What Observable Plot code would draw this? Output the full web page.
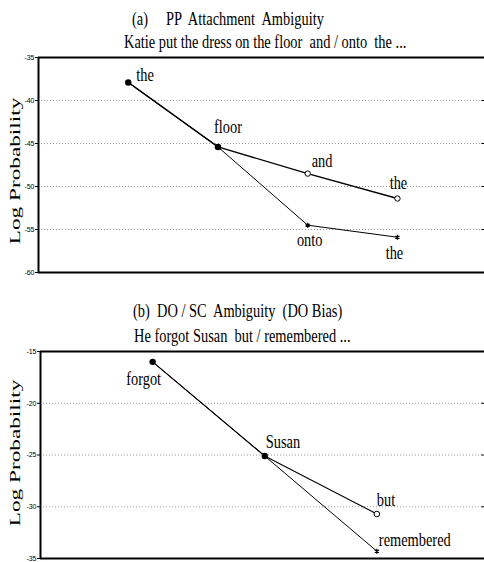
<!DOCTYPE html>
<html><head><meta charset="utf-8">
<script src="https://cdn.jsdelivr.net/npm/d3@7"></script>
<script src="https://cdn.jsdelivr.net/npm/@observablehq/plot@0.6"></script>
<style>
body{margin:0;background:#fff;}
#wrap{position:relative;width:484px;height:562px;overflow:hidden;background:#fff;font-family:"Liberation Serif","Times New Roman",serif;color:#000;}
.t{position:absolute;white-space:pre;font-size:18px;line-height:18px;transform-origin:0 0;transform:scaleX(0.8);}
.yl{position:absolute;white-space:pre;font-size:15px;line-height:15px;transform:translate(-50%,-50%) rotate(-90deg) scaleX(1.55);}
.panel{position:absolute;left:0;}
</style>
</head><body>
<div id="wrap">
  <div class="t" style="left:132px;top:10px">(a)     PP  Attachment  Ambiguity</div>
  <div class="t" style="left:124px;top:32.5px">Katie put the dress on the floor  and / onto  the ...</div>
  <div class="yl" style="left:15px;top:171px">Log Probability</div>
  <div class="panel" id="pa" style="top:48px"></div>
  <div class="t" style="left:133px;top:302px">(b)  DO / SC  Ambiguity  (DO Bias)</div>
  <div class="t" style="left:134px;top:327px">He forgot Susan  but / remembered ...</div>
  <div class="yl" style="left:15px;top:453px">Log Probability</div>
  <div class="panel" id="pb" style="top:342px"></div>
</div>
<script>
// ---- Panel (a) data ----
const posA = [1, 2, 3, 4];
const wordsAnd = ["the", "floor", "and", "the"];
const valsAnd = [-37.9, -45.4, -48.5, -51.4];
const wordsOnto = ["the", "floor", "onto", "the"];
const valsOnto = [-37.9, -45.4, -54.5, -55.9];
const ticksA = [-60, -55, -50, -45, -40, -35];

// ---- Panel (b) data ----
const posB = [1, 2, 3];
const wordsBut = ["forgot", "Susan", "but"];
const valsBut = [-16.0, -25.1, -30.7];
const wordsRem = ["forgot", "Susan", "remembered"];
const valsRem = [-16.0, -25.1, -34.3];
const ticksB = [-35, -30, -25, -20, -15];

const SERIF = "Liberation Serif";
const SANS = "Liberation Sans";

function rows(pos, words, vals) {
  return pos.map((p, i) => ({x: p, y: vals[i], word: words[i], i}));
}

function frameMarks(ticks, xMin, xMax) {
  const lo = d3.min(ticks), hi = d3.max(ticks);
  const inner = ticks.filter(t => t !== lo && t !== hi);
  return [
    Plot.ruleY(inner, {stroke: "#8a8a8a", strokeWidth: 0.9, strokeDasharray: "1,2"}),
    Plot.ruleY(ticks, {x1: xMax - (xMax - xMin) * 0.006, x2: xMax, stroke: "#000", strokeWidth: 1}),
    Plot.axisY({ticks, tickSize: 3, tickPadding: 1, fontSize: 7, fontFamily: SANS, tickFormat: d => String(d), label: null}),
    Plot.ruleY([hi], {stroke: "#000", strokeWidth: 2}),
    Plot.ruleY([lo], {stroke: "#000", strokeWidth: 2}),
    Plot.ruleX([xMin], {stroke: "#000", strokeWidth: 2})
  ];
}

function lab(data, word, idx, dx, dy, anchor) {
  return Plot.text(data.filter(d => d.i === idx && d.word === word), {
    x: "x", y: "y", text: "word", dx, dy, textAnchor: anchor,
    fontFamily: SERIF, fontSize: 18, fill: "#000"
  });
}

function squeeze(svg) {
  svg.querySelectorAll('g[aria-label="text"] text').forEach(el => {
    const t = el.getAttribute("transform");
    if (t) el.setAttribute("transform", t + " scale(0.8,1)");
    else {
      const x = +el.getAttribute("x") || 0, y = +el.getAttribute("y") || 0;
      el.removeAttribute("x"); el.removeAttribute("y");
      el.setAttribute("transform", `translate(${x},${y}) scale(0.8,1)`);
    }
  });
  return svg;
}

// ---- Panel (a) ----
const A1 = rows(posA, wordsAnd, valsAnd);
const A2 = rows(posA, wordsOnto, valsOnto);
const xMaxA = 4.97;
const plotA = Plot.plot({
  width: 484, height: 232, marginTop: 9, marginBottom: 8, marginLeft: 38, marginRight: 0,
  x: {domain: [0, xMaxA], axis: null},
  y: {domain: [d3.min(ticksA), d3.max(ticksA)], axis: null},
  marks: [
    ...frameMarks(ticksA, 0, xMaxA),
    Plot.line(A2, {x: "x", y: "y", stroke: "#000", strokeWidth: 1}),
    Plot.line(A1, {x: "x", y: "y", stroke: "#000", strokeWidth: 1.4}),
    Plot.dot(A1.filter(d => d.i < 2), {x: "x", y: "y", r: 3.2, fill: "#000"}),
    Plot.dot(A1.filter(d => d.i >= 2), {x: "x", y: "y", r: 2.7, fill: "#fff", stroke: "#000", strokeWidth: 1}),
    Plot.dot(A2.filter(d => d.i >= 2), {x: "x", y: "y", r: 2.3, symbol: "asterisk", stroke: "#000", strokeWidth: 1.3}),
    lab(A1, "the", 0, 8, -7, "start"),
    lab(A1, "floor", 1, -4, -20, "start"),
    lab(A1, "and", 2, 4, -12, "start"),
    lab(A1, "the", 3, 1, -15, "middle"),
    lab(A2, "onto", 2, 2, 15, "middle"),
    lab(A2, "the", 3, -3, 16, "middle")
  ]
});
document.getElementById("pa").append(squeeze(plotA));

// ---- Panel (b) ----
const B1 = rows(posB, wordsBut, valsBut);
const B2 = rows(posB, wordsRem, valsRem);
const xMaxB = 3.96;
const plotB = Plot.plot({
  width: 484, height: 220, marginTop: 9, marginBottom: 4, marginLeft: 40, marginRight: 0,
  x: {domain: [0, xMaxB], axis: null},
  y: {domain: [d3.min(ticksB), d3.max(ticksB)], axis: null},
  marks: [
    ...frameMarks(ticksB, 0, xMaxB),
    Plot.line(B2, {x: "x", y: "y", stroke: "#000", strokeWidth: 1}),
    Plot.line(B1, {x: "x", y: "y", stroke: "#000", strokeWidth: 1.1}),
    Plot.dot(B1.filter(d => d.i < 2), {x: "x", y: "y", r: 3.2, fill: "#000"}),
    Plot.dot(B1.filter(d => d.i >= 2), {x: "x", y: "y", r: 2.8, fill: "#fff", stroke: "#000", strokeWidth: 1}),
    Plot.dot(B2.filter(d => d.i >= 2), {x: "x", y: "y", r: 2.3, symbol: "asterisk", stroke: "#000", strokeWidth: 1.3}),
    lab(B1, "forgot", 0, -9, 17, "middle"),
    lab(B1, "Susan", 1, 1, -14, "start"),
    lab(B1, "but", 2, 0, -14, "start"),
    lab(B2, "remembered", 2, 2, -11, "start")
  ]
});
document.getElementById("pb").append(squeeze(plotB));
</script>
</body></html>
